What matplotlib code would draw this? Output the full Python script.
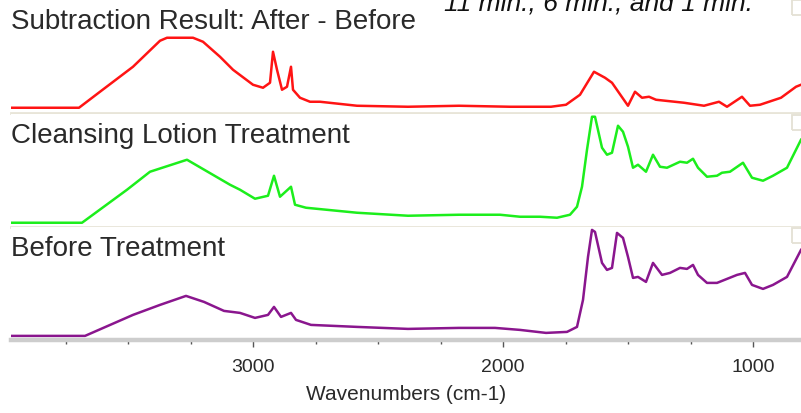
import matplotlib
matplotlib.use("Agg")
import matplotlib.pyplot as plt
from matplotlib.patches import Rectangle

# FTIR spectra, absorbance in arbitrary units
sub_wn = [3968, 3696, 3612, 3480, 3372, 3344, 3240, 3200, 3132, 3080, 3000, 2960, 2932, 2920,
          2904, 2884, 2864, 2848, 2840, 2812, 2772, 2732, 2584, 2380, 2176, 1972, 1808, 1748,
          1692, 1636, 1592, 1564, 1500, 1472, 1444, 1416, 1388, 1276, 1196, 1136, 1104, 1044,
          1012, 972, 888, 828, 808]
sub_abs = [5, 5, 21, 46, 72, 75, 75, 71, 56, 43, 28, 25, 30, 61, 43, 23, 26, 46, 23, 15, 11, 11,
           7, 6, 7, 6, 6, 8, 18, 41, 35, 30, 7, 21, 15, 16, 13, 10, 7, 11, 6, 16, 7, 8, 15, 26, 28]

lotion_wn = [3968, 3684, 3504, 3412, 3264, 3092, 3052, 2992, 2940, 2916, 2892, 2848, 2832, 2788,
             2584, 2380, 2176, 2012, 1932, 1852, 1784, 1732, 1704, 1684, 1664, 1644, 1632, 1604,
             1584, 1564, 1540, 1520, 1500, 1480, 1460, 1428, 1400, 1372, 1344, 1292, 1264, 1240,
             1220, 1184, 1144, 1124, 1092, 1040, 1004, 960, 920, 864, 808]
lotion_abs = [4, 4, 37, 55, 67, 42, 37, 28, 31, 51, 30, 40, 22, 19, 14, 11, 12, 12, 10, 10, 9, 12,
              20, 40, 77, 110, 110, 79, 72, 74, 101, 95, 80, 59, 62, 55, 72, 60, 59, 65, 64, 68,
              59, 50, 51, 54, 55, 64, 49, 46, 51, 59, 87]

before_wn = [3968, 3672, 3480, 3372, 3268, 3196, 3116, 3052, 2992, 2940, 2916, 2888, 2848, 2828,
             2768, 2584, 2380, 2176, 2032, 1932, 1828, 1744, 1704, 1680, 1660, 1644, 1632, 1604,
             1584, 1564, 1544, 1520, 1500, 1480, 1460, 1428, 1400, 1364, 1332, 1292, 1264, 1240,
             1220, 1184, 1144, 1104, 1064, 1032, 1004, 960, 920, 864, 808]
before_abs = [4, 4, 25, 35, 44, 38, 29, 27, 22, 25, 33, 23, 27, 20, 15, 13, 11, 12, 12, 10, 7, 8,
              13, 40, 83, 110, 108, 77, 70, 72, 107, 102, 83, 62, 63, 58, 77, 65, 67, 72, 71, 75,
              65, 57, 57, 61, 65, 67, 55, 51, 55, 63, 90]

panel_titles = ["Subtraction Result: After - Before", "Cleansing Lotion Treatment", "Before Treatment"]
major_ticks = [3000, 2000, 1000]
minor_ticks = [3750, 3500, 3250, 2750, 2500, 2250, 1750, 1500, 1250]

fig = plt.figure(figsize=(8.01, 4.13), dpi=100)
plt.rcParams['font.family'] = ['Liberation Sans', 'DejaVu Sans']

left = 11 / 801
width = 790 / 801
h = 113 / 413
bottoms = [0.727, 0.451, 0.177]
series = [(sub_wn, sub_abs, '#ff1414'), (lotion_wn, lotion_abs, '#1cee1c'),
          (before_wn, before_abs, '#8a168e')]
box_tops = [1.0, 0.99, 0.99]

axes = []
for i in range(3):
    ax = fig.add_axes([left, bottoms[i], width, h])
    wn, ab, col = series[i]
    ax.plot(wn, ab, color=col, lw=1.8, solid_joinstyle='round')
    ax.set_xlim(3968, 808)
    ax.set_ylim(0, 113)
    ax.set_yticks([])
    for s in ['left', 'right', 'top']:
        ax.spines[s].set_visible(False)
    ax.spines['bottom'].set_color('#e8e5d8')
    ax.spines['bottom'].set_linewidth(2.0)
    ax.tick_params(bottom=False, labelbottom=False)
    ax.text(0.0, 0.80, panel_titles[i], transform=ax.transAxes, fontsize=20,
            color='#2a2a2a', va='center', ha='left')
    # little box stub at the right edge
    ax.add_patch(Rectangle((781 / 790, box_tops[i] - 15 / 113), 0.05, 15 / 113,
                           transform=ax.transAxes, fill=False, edgecolor='#e4e1d4',
                           lw=1.3, clip_on=True))
    axes.append(ax)

ax3 = axes[2]
ax3.spines['bottom'].set_color('#cdcdcd')
ax3.spines['bottom'].set_linewidth(3.2)
ax3.set_xticks(major_ticks)
ax3.set_xticklabels([str(t) for t in major_ticks])
ax3.set_xticks(minor_ticks, minor=True)
ax3.tick_params(axis='x', which='major', bottom=True, labelbottom=True, length=5,
                width=1, color='#555555', labelsize=14, pad=9, labelcolor='#2a2a2a')
ax3.tick_params(axis='x', which='minor', bottom=True, length=3, width=1, color='#555555')
ax3.set_xlabel("Wavenumbers (cm-1)", fontsize=15, color='#2a2a2a', labelpad=6)

fig.text(753 / 801, 1 - 11 / 413, "11 min., 6 min., and 1 min.", fontsize=19,
         style='italic', ha='right', va='baseline', color='#111111')

plt.savefig('out.png', dpi=100)
